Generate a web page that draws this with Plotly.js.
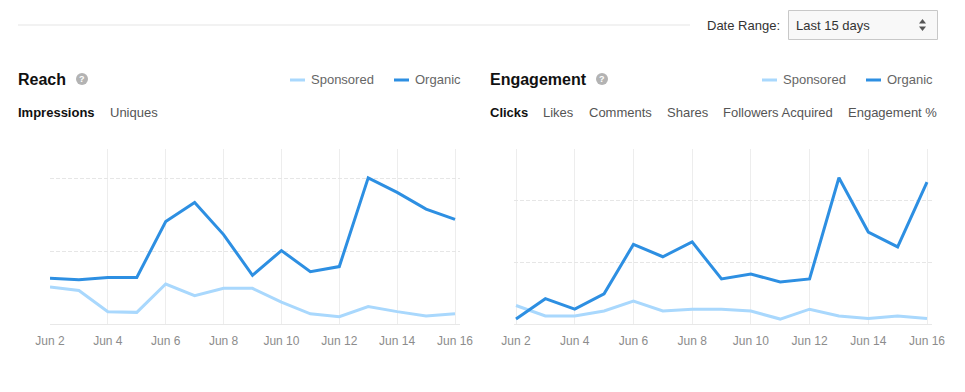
<!DOCTYPE html>
<html>
<head>
<meta charset="utf-8">
<script src="https://cdn.plot.ly/plotly-3.0.1.min.js"></script>
<style>
html,body{margin:0;padding:0;background:#fff;}
#chart{width:965px;height:392px;}
</style>
</head>
<body>
<div id="chart"></div>
<script>
// ---- data ----
var dates = ['2015-06-02','2015-06-03','2015-06-04','2015-06-05','2015-06-06','2015-06-07','2015-06-08','2015-06-09','2015-06-10','2015-06-11','2015-06-12','2015-06-13','2015-06-14','2015-06-15','2015-06-16'];
var reachOrganic    = [0.63,0.61,0.64,0.64,1.41,1.67,1.23,0.67,1.01,0.72,0.79,2.01,1.81,1.58,1.44];
var reachSponsored  = [0.51,0.46,0.17,0.16,0.55,0.39,0.49,0.49,0.30,0.14,0.10,0.24,0.17,0.11,0.14];
var engOrganic      = [0.08,0.41,0.24,0.49,1.29,1.09,1.33,0.73,0.81,0.68,0.73,2.37,1.49,1.25,2.30];
var engSponsored    = [0.30,0.13,0.13,0.21,0.37,0.21,0.24,0.24,0.21,0.08,0.24,0.13,0.09,0.13,0.09];
var seriesNames = ['Sponsored','Organic'];
var reachTabs = ['Impressions','Uniques'];
var engTabs = ['Clicks','Likes','Comments','Shares','Followers Acquired','Engagement %'];
var dateRangeLabel = 'Date Range:';
var dateRangeValue = 'Last 15 days';

// ---- style ----
var ORG = '#2d8fe2', SPO = '#a9d8fd';
var W = 965, H = 392;
function px(x){return x/W;}
function py(y){return 1 - y/H;}
var FONT = 'Liberation Sans, Arial, Helvetica, sans-serif';

var traces = [
  {x: dates, y: reachSponsored, name: seriesNames[0], mode:'lines', line:{color:SPO,width:3}, cliponaxis:false, xaxis:'x', yaxis:'y'},
  {x: dates, y: reachOrganic,   name: seriesNames[1], mode:'lines', line:{color:ORG,width:3}, cliponaxis:false, xaxis:'x', yaxis:'y'},
  {x: dates, y: engSponsored,   name: seriesNames[0], mode:'lines', line:{color:SPO,width:3}, cliponaxis:false, xaxis:'x2', yaxis:'y2'},
  {x: dates, y: engOrganic,     name: seriesNames[1], mode:'lines', line:{color:ORG,width:3}, cliponaxis:false, xaxis:'x2', yaxis:'y2'}
];

function xAx(domain, range, anchor){
  return {
    type:'date', domain: domain, anchor: anchor,
    range: range,
    tick0: '2015-06-02', dtick: 2*86400000, tickformat: '%b %-d',
    showgrid: true, gridcolor: '#ededed', gridwidth: 1,
    showline: true, linecolor: '#e8e8e8', linewidth: 1,
    zeroline: false, ticks: '', ticklabelstandoff: 6,
    tickfont: {family: FONT, size: 12, color: '#8c8c8c'},
    fixedrange: true
  };
}
function yAx(range, anchor){
  return {
    domain: [py(324), py(149)], anchor: anchor, range: range,
    tickvals: [1,2], showticklabels: false,
    showgrid: true, gridcolor: '#e6e6e6', griddash: '4px,2px', gridwidth: 1,
    zeroline: false, showline: false, ticks: '', fixedrange: true
  };
}

var annotations = [];
var shapes = [];
function txt(t, x, y, size, color, bold){
  annotations.push({text: bold ? '<b>'+t+'</b>' : t, x: px(x), y: py(y), xref:'paper', yref:'paper',
    xanchor:'left', yanchor:'middle', showarrow:false,
    font:{family: FONT, size:size, color:color}});
}
function hline(x0,x1,y,color,width){
  shapes.push({type:'line', xref:'paper', yref:'paper', x0:px(x0), x1:px(x1), y0:py(y), y1:py(y), line:{color:color,width:width}});
}
function helpIcon(cx, cy){
  shapes.push({type:'circle', xref:'paper', yref:'paper', x0:px(cx-6), x1:px(cx+6), y0:py(cy+6), y1:py(cy-6), fillcolor:'#b3b3b3', line:{width:0}});
  annotations.push({text:'<b>?</b>', x:px(cx), y:py(cy), xref:'paper', yref:'paper', xanchor:'center', yanchor:'middle', showarrow:false, font:{family:FONT,size:9,color:'#fff'}});
}

// header rule
hline(18, 690, 25, '#e5e5e5', 1);
txt(dateRangeLabel, 705, 25, 13, '#333', false);
shapes.push({type:'rect', xref:'paper', yref:'paper', x0:px(788.5), x1:px(937.5), y0:py(39.5), y1:py(10.5), fillcolor:'#f8f8f8', line:{color:'#c8c8c8', width:1}});
txt(dateRangeValue, 794, 25, 13, '#333', false);
shapes.push({type:'path', xref:'paper', yref:'paper', path:'M '+px(919)+' '+py(23.5)+' L '+px(926)+' '+py(23.5)+' L '+px(922.5)+' '+py(19)+' Z', fillcolor:'#555', line:{width:0}});
shapes.push({type:'path', xref:'paper', yref:'paper', path:'M '+px(919)+' '+py(26.5)+' L '+px(926)+' '+py(26.5)+' L '+px(922.5)+' '+py(31)+' Z', fillcolor:'#555', line:{width:0}});

// Reach header
txt('Reach', 16, 79, 16, '#111', true);
helpIcon(82, 79);
hline(290, 305, 80, SPO, 3); txt(seriesNames[0], 309, 79, 13, '#666', false);
hline(394, 409, 80, ORG, 3); txt(seriesNames[1], 413, 79, 13, '#666', false);
var reachTabX = [16, 108];
reachTabs.forEach(function(t,i){ txt(t, reachTabX[i], 112, 13, i===0?'#111':'#555', i===0); });

// Engagement header
txt('Engagement', 488, 79, 16, '#111', true);
helpIcon(602, 79);
hline(762, 777, 80, SPO, 3); txt(seriesNames[0], 781, 79, 13, '#666', false);
hline(866, 881, 80, ORG, 3); txt(seriesNames[1], 885, 79, 13, '#666', false);
var engTabX = [488, 541, 587, 665, 721, 846];
engTabs.forEach(function(t,i){ txt(t, engTabX[i], 112, 13, i===0?'#111':'#555', i===0); });

var DAY = 86400000;
function iso(ms){ return new Date(ms).toISOString().replace('T',' ').replace('Z',''); }
var t0 = Date.UTC(2015,5,2), t1 = Date.UTC(2015,5,16);

var layout = {
  width: W, height: H,
  margin: {l:0, r:0, t:0, b:0},
  paper_bgcolor: '#fff', plot_bgcolor: 'rgba(0,0,0,0)',
  showlegend: false,
  xaxis:  xAx([px(50), px(460)], [iso(t0), iso(t1 + 5/28.93*DAY)], 'y'),
  yaxis:  yAx([0, 2.407], 'x'),
  xaxis2: xAx([px(514), px(932)], [iso(t0 - 2/29.36*DAY), iso(t1 + 5/29.36*DAY)], 'y2'),
  yaxis2: yAx([0, 2.836], 'x2'),
  annotations: annotations,
  shapes: shapes
};

Plotly.newPlot('chart', traces, layout, {staticPlot:true, displayModeBar:false});
</script>
</body>
</html>
